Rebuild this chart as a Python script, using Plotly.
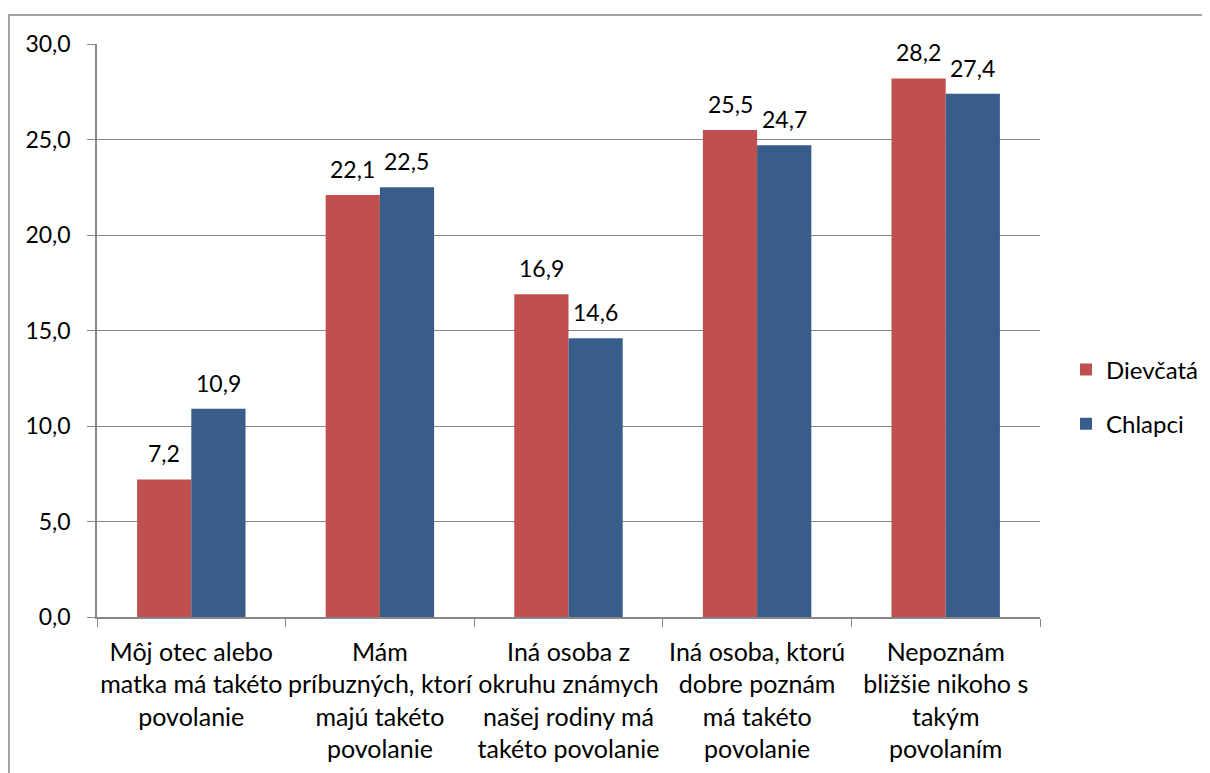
import plotly.graph_objects as go

categories = [
    "Môj otec alebo<br>matka má takéto<br>povolanie",
    "Mám<br>príbuzných, ktorí<br>majú takéto<br>povolanie",
    "Iná osoba z<br>okruhu známych<br>našej rodiny má<br>takéto povolanie",
    "Iná osoba, ktorú<br>dobre poznám<br>má takéto<br>povolanie",
    "Nepoznám<br>bližšie nikoho s<br>takým<br>povolaním",
]
dievcata = [7.2, 22.1, 16.9, 25.5, 28.2]
chlapci = [10.9, 22.5, 14.6, 24.7, 27.4]
y_ticks = [0, 5, 10, 15, 20, 25, 30]

RED = "#C0504D"
BLUE = "#385D8A"
GRID = "#878787"
FONT = "Lato"
FS = 23

# page body has an 8px default margin; plot area target: x 97..1040, y 44..617
L, T, R, B = 89, 36, 178, 164
PW = 1210 - L - R
PH = 773 - T - B

fig = go.Figure()
fig.add_trace(go.Bar(name="Dievčatá", x=categories, y=dievcata, marker_color=RED,
                     marker_line_width=0, legendgroup="d"))
fig.add_trace(go.Bar(name="Chlapci", x=categories, y=chlapci, marker_color=BLUE,
                     marker_line_width=0, legendgroup="c"))

for series, shift in ((dievcata, -27), (chlapci, 27)):
    for c, v in zip(categories, series):
        fig.add_annotation(x=c, y=v, text=f"{v:.1f}".replace(".", ","),
                           showarrow=False, xshift=shift, yshift=10,
                           yanchor="bottom", font=dict(family=FONT, size=FS, color="black"))

fig.add_shape(type="rect", xref="paper", yref="paper",
              x0=(9 - 97) / PW, x1=1.4, y0=-0.6, y1=(617 - 15) / PH,
              line=dict(color=GRID, width=1.5), fillcolor="rgba(0,0,0,0)", layer="below")

fig.update_layout(
    width=1210, height=773,
    margin=dict(l=L, r=R, t=T, b=B, autoexpand=False),
    paper_bgcolor="white", plot_bgcolor="white",
    separators=",.",
    barmode="group", bargap=0.425, bargroupgap=0,
    font=dict(family=FONT, size=FS, color="black"),
    legend=dict(x=(1066 - 97) / PW, y=(617 - 397) / PH, xanchor="left", yanchor="middle",
                font=dict(family=FONT, size=24), tracegroupgap=20,
                traceorder="grouped", itemwidth=30),
    showlegend=True,
)
fig.update_xaxes(tickson="boundaries", ticks="outside", ticklen=8, tickcolor=GRID,
                 showline=True, linecolor=GRID, linewidth=1.5, showgrid=False,
                 ticklabelstandoff=12, tickangle=0,
                 tickfont=dict(family=FONT, size=25, color="black"))
fig.update_yaxes(range=[0, 30], tickvals=y_ticks, tickformat=".1f", ticks="outside",
                 ticklen=8, tickcolor=GRID, showline=True, linecolor=GRID, linewidth=1.5,
                 showgrid=True, gridcolor=GRID, gridwidth=1, zeroline=False,
                 ticklabelstandoff=12,
                 tickfont=dict(family=FONT, size=FS, color="black"))

fig.write_html("out.html")
